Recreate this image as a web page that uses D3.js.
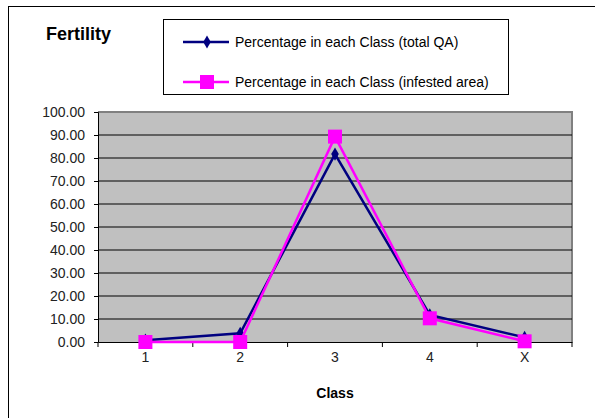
<!DOCTYPE html>
<html><head><meta charset="utf-8">
<script src="https://cdn.jsdelivr.net/npm/d3@7"></script>
<style>body{margin:0;background:#fff}svg{display:block;font-family:Arial,"Liberation Sans",sans-serif}</style>
</head><body>
<svg id="c" width="595" height="418"></svg>
<script>
const categories = ["1","2","3","4","X"];
const totalQA = [0.8, 3.8, 81.7, 11.8, 2.0];
const infested = [0.0, 0.0, 89.3, 10.3, 0.3];
const yTicks = [0,10,20,30,40,50,60,70,80,90,100];
const seriesNames = ["Percentage in each Class (total QA)","Percentage in each Class (infested area)"];

const svg = d3.select("#c");
const L = 98, R = 572, T = 112, B = 342;
svg.append("rect").attr("x",8.5).attr("y",6.5).attr("width",620).attr("height",440).attr("fill","#fff").attr("stroke","#000").attr("stroke-width",1);

const x = d3.scaleBand().domain(categories).range([L,R]);
const y = d3.scaleLinear().domain([0,100]).range([B,T]);

svg.append("rect").attr("x",L).attr("y",T).attr("width",R-L).attr("height",B-T).attr("fill","#c0c0c0");
svg.append("path").attr("d",`M${L},${T}H${R}V${B}`).attr("fill","none").attr("stroke","#808080").attr("stroke-width",2);

svg.append("g").selectAll("line").data(yTicks.slice(1,-1)).join("line")
  .attr("x1",L).attr("x2",R).attr("y1",d=>y(d)).attr("y2",d=>y(d)).attr("stroke","#000").attr("stroke-width",1);

const ya = svg.append("g").attr("transform",`translate(${L},0)`).call(d3.axisLeft(y).tickValues(yTicks).tickFormat(d3.format(".2f")).tickSize(4).tickPadding(9));
ya.select(".domain").attr("stroke","#000");
ya.selectAll("text").attr("font-size",14).attr("fill","#222").attr("font-family","Arial");

const xa = svg.append("g").attr("transform",`translate(0,${B})`).call(d3.axisBottom(x).tickSize(0).tickPadding(10));
xa.select(".domain").attr("stroke","#000");
xa.selectAll("text").attr("font-size",14).attr("fill","#222").attr("font-family","Arial");
const bounds = categories.map(c=>x(c)).concat([R]);
xa.selectAll("line.b").data(bounds).join("line").attr("class","b").attr("x1",d=>d).attr("x2",d=>d).attr("y1",0).attr("y2",5).attr("stroke","#000");

svg.append("text").attr("x",(L+R)/2).attr("y",398).attr("text-anchor","middle").attr("font-weight","bold").attr("font-size",14).text("Class");
svg.append("text").attr("x",46).attr("y",40).attr("font-weight","bold").attr("font-size",18).text("Fertility");

const cx = d => x(d) + x.bandwidth()/2;
const line = d3.line().x((d,i)=>cx(categories[i])).y(d=>y(d));
svg.append("path").datum(totalQA).attr("d",line).attr("fill","none").attr("stroke","#000080").attr("stroke-width",2.5);
svg.append("g").selectAll("path").data(totalQA).join("path")
  .attr("d",d3.symbol(d3.symbolDiamond,50)).attr("transform",(d,i)=>`translate(${cx(categories[i])},${y(d)})`).attr("fill","#000080");
svg.append("path").datum(infested).attr("d",line).attr("fill","none").attr("stroke","#ff00ff").attr("stroke-width",2.5);
svg.append("g").selectAll("rect").data(infested).join("rect")
  .attr("x",(d,i)=>cx(categories[i])-7).attr("y",d=>y(d)-7).attr("width",14).attr("height",14).attr("fill","#ff00ff");

const lg = svg.append("g");
lg.append("rect").attr("x",163.5).attr("y",19.5).attr("width",345).attr("height",75).attr("fill","#fff").attr("stroke","#000");
const colors = ["#000080","#ff00ff"];
[42,82].forEach((yy,i)=>{
  lg.append("line").attr("x1",183).attr("x2",229).attr("y1",yy).attr("y2",yy).attr("stroke",colors[i]).attr("stroke-width",2.5);
  if(i===0) lg.append("path").attr("d",d3.symbol(d3.symbolDiamond,50)).attr("transform",`translate(207,${yy})`).attr("fill",colors[i]);
  else lg.append("rect").attr("x",200).attr("y",yy-7).attr("width",14).attr("height",14).attr("fill",colors[i]);
  lg.append("text").attr("x",235).attr("y",yy+5).attr("font-size",14).attr("fill","#000").text(seriesNames[i]);
});
</script>
</body></html>
